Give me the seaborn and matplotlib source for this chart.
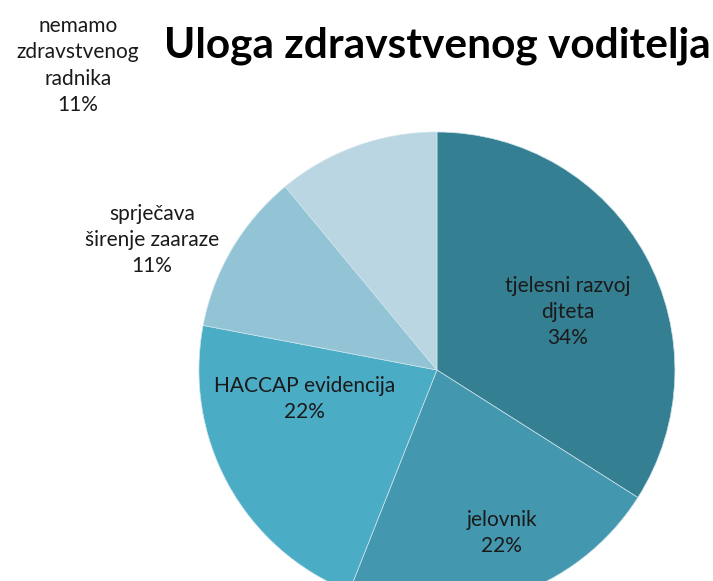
import matplotlib
matplotlib.use("Agg")
import matplotlib.pyplot as plt
import seaborn as sns

# podaci — uloga zdravstvenog voditelja
KATEGORIJE = ["tjelesni razvoj\ndjteta", "jelovnik", "HACCAP evidencija",
              "sprječava\nširenje zaaraze", "nemamo\nzdravstvenog\nradnika"]
POSTOCI = [34, 22, 22, 11, 11]
BOJE = ["#357f92", "#4398af", "#4bacc6", "#93c4d6", "#bad6e2"]

# položaji oznaka (koordinate osi pite, polumjer = 1)
OZNAKE_X = [0.55, 0.273, -0.555, -1.197, -1.508]
OZNAKE_Y = [0.244, -0.685, -0.122, 0.546, 1.28]

sns.set_theme(style="white")
plt.rcParams["font.family"] = ["Lato", "DejaVu Sans"]

fig = plt.figure(figsize=(7.13, 5.81), dpi=100)
ax = fig.add_axes([0.279, -0.0465, 0.6676, 0.8193])

ax.pie(POSTOCI, colors=BOJE, startangle=90, counterclock=False,
       wedgeprops={"edgecolor": "#cfe4ec", "linewidth": 0.5})
ax.set_xlim(-1, 1)
ax.set_ylim(-1, 1)
ax.set_aspect("equal")
ax.axis("off")

for naziv, pct, x, y in zip(KATEGORIJE, POSTOCI, OZNAKE_X, OZNAKE_Y):
    ax.text(x, y, f"{naziv}\n{pct}%", ha="center", va="center", fontsize=15,
            color="#1a1a1a", linespacing=1.4, clip_on=False)

fig.text(0.613, 0.922, "Uloga zdravstvenog voditelja", ha="center", va="center",
         fontsize=30.5, fontweight="bold", color="black")

fig.savefig("out.png", dpi=100)
